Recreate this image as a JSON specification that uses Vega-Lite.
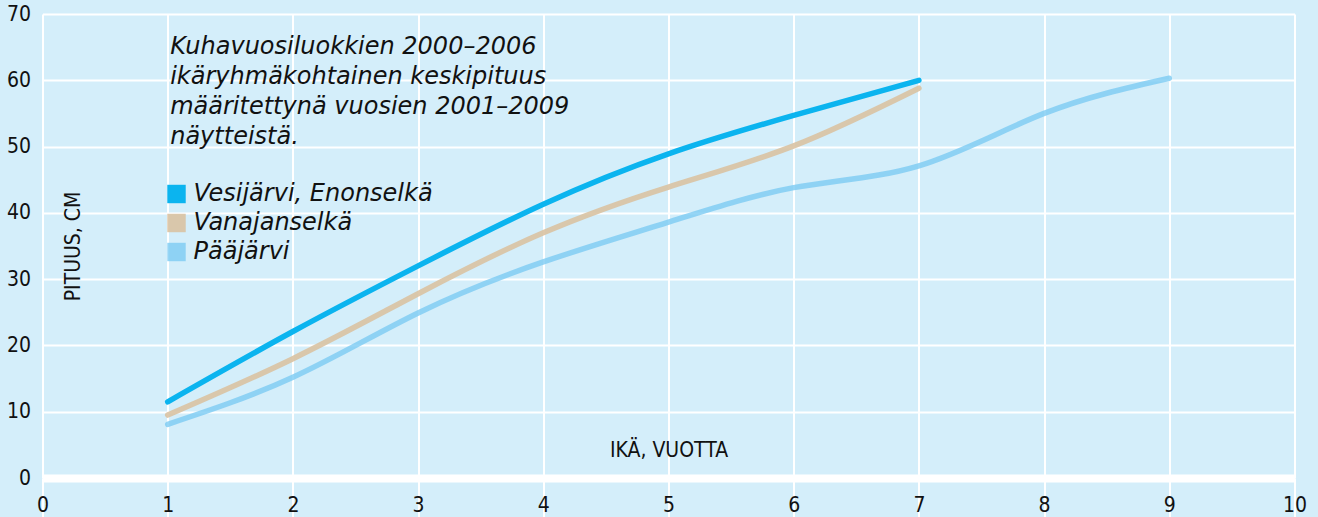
{
  "$schema": "https://vega.github.io/schema/vega-lite/v6.json",
  "width": 1252,
  "height": 464,
  "autosize": "none",
  "padding": {"left": 42.5, "top": 14, "right": 23.5, "bottom": 39},
  "background": "#d4eefa",
  "config": {
    "view": {"stroke": null, "fill": "#d4eefa"},
    "axis": {"gridColor": "#ffffff", "gridWidth": 2, "gridOpacity": 1, "labelColor": "#111111", "titleColor": "#111111", "labelFont": "DejaVu Sans Condensed, Roboto, sans-serif", "titleFont": "DejaVu Sans Condensed, Roboto, sans-serif", "titleFontWeight": "normal"}
  },
  "datasets": {
    "series": [
      {"ika": 1, "pituus": 11.5, "jarvi": "Vesijärvi, Enonselkä"},
      {"ika": 2, "pituus": 22.1, "jarvi": "Vesijärvi, Enonselkä"},
      {"ika": 3, "pituus": 32.0, "jarvi": "Vesijärvi, Enonselkä"},
      {"ika": 4, "pituus": 41.3, "jarvi": "Vesijärvi, Enonselkä"},
      {"ika": 5, "pituus": 48.9, "jarvi": "Vesijärvi, Enonselkä"},
      {"ika": 6, "pituus": 54.7, "jarvi": "Vesijärvi, Enonselkä"},
      {"ika": 7, "pituus": 60.0, "jarvi": "Vesijärvi, Enonselkä"},
      {"ika": 1, "pituus": 9.5, "jarvi": "Vanajanselkä"},
      {"ika": 2, "pituus": 18.0, "jarvi": "Vanajanselkä"},
      {"ika": 3, "pituus": 27.8, "jarvi": "Vanajanselkä"},
      {"ika": 4, "pituus": 37.0, "jarvi": "Vanajanselkä"},
      {"ika": 5, "pituus": 43.9, "jarvi": "Vanajanselkä"},
      {"ika": 6, "pituus": 50.1, "jarvi": "Vanajanselkä"},
      {"ika": 7, "pituus": 58.8, "jarvi": "Vanajanselkä"},
      {"ika": 1, "pituus": 8.1, "jarvi": "Pääjärvi"},
      {"ika": 2, "pituus": 15.2, "jarvi": "Pääjärvi"},
      {"ika": 3, "pituus": 24.9, "jarvi": "Pääjärvi"},
      {"ika": 4, "pituus": 32.6, "jarvi": "Pääjärvi"},
      {"ika": 5, "pituus": 38.6, "jarvi": "Pääjärvi"},
      {"ika": 6, "pituus": 43.8, "jarvi": "Pääjärvi"},
      {"ika": 7, "pituus": 47.1, "jarvi": "Pääjärvi"},
      {"ika": 8, "pituus": 55.0, "jarvi": "Pääjärvi"},
      {"ika": 9, "pituus": 60.3, "jarvi": "Pääjärvi"}
    ],
    "note": [
      {"x": 1.02, "y": 66.9, "teksti": "Kuhavuosiluokkien 2000–2006\nikäryhmäkohtainen keskipituus\nmääritettynä vuosien 2001–2009\nnäytteistä."}
    ]
  },
  "layer": [
    {
      "data": {"name": "series"},
      "mark": {"type": "line", "interpolate": "natural", "strokeWidth": 5.5, "strokeCap": "round", "strokeJoin": "round"},
      "encoding": {
        "x": {"field": "ika", "type": "quantitative", "scale": {"domain": [0, 10], "nice": false},
          "axis": {"values": [0,1,2,3,4,5,6,7,8,9,10], "format": "d", "title": "IKÄ, VUOTTA", "titleFontSize": 21, "titleY": -28, "titleBaseline": "middle",
            "domainColor": "#ffffff", "domainWidth": 8, "tickColor": "#ffffff", "tickWidth": 2, "tickSize": 40, "labelPadding": -24, "labelFontSize": 21, "labelBaseline": "top", "labelFlush": false, "labelOverlap": false}},
        "y": {"field": "pituus", "type": "quantitative", "scale": {"domain": [0, 70], "nice": false},
          "axis": {"values": [0,10,20,30,40,50,60,70], "format": "d", "title": "PITUUS, CM", "titleFontSize": 21, "titleAngle": 270, "titleX": 31, "titleY": 232, "titleAlign": "center", "titleBaseline": "middle",
            "domain": false, "ticks": false, "labelPadding": 12, "labelFontSize": 21, "labelBaseline": "middle"}},
        "color": {"field": "jarvi", "type": "nominal",
          "scale": {"domain": ["Vesijärvi, Enonselkä", "Vanajanselkä", "Pääjärvi"], "range": ["#0bb4ef", "#d9c2a2", "#7ccbf3"]},
          "legend": {"orient": "none", "legendX": 122, "legendY": 168, "title": null, "symbolType": "square", "symbolSize": 340, "symbolOpacity": 1, "symbolStrokeWidth": 0,
            "labelFont": "DejaVu Sans", "labelFontStyle": "italic", "labelFontSize": 24, "labelColor": "#111111", "labelOffset": 5, "rowPadding": 5, "labelLimit": 400,
            "encode": {"symbols": {"update": {"fill": {"scale": "color", "field": "value"}, "strokeWidth": {"value": 0}, "opacity": {"value": 1}}}}}},
        "opacity": {"field": "jarvi", "type": "nominal", "scale": {"domain": ["Vesijärvi, Enonselkä", "Vanajanselkä", "Pääjärvi"], "range": [1, 0.8, 0.8]}, "legend": null}
      }
    },
    {
      "data": {"name": "note"},
      "mark": {"type": "text", "align": "left", "baseline": "top", "lineBreak": "\n", "font": "DejaVu Sans", "fontStyle": "italic", "fontSize": 24, "lineHeight": 30, "color": "#111111"},
      "encoding": {
        "x": {"field": "x", "type": "quantitative"},
        "y": {"field": "y", "type": "quantitative"},
        "text": {"field": "teksti"}
      }
    }
  ]
}
